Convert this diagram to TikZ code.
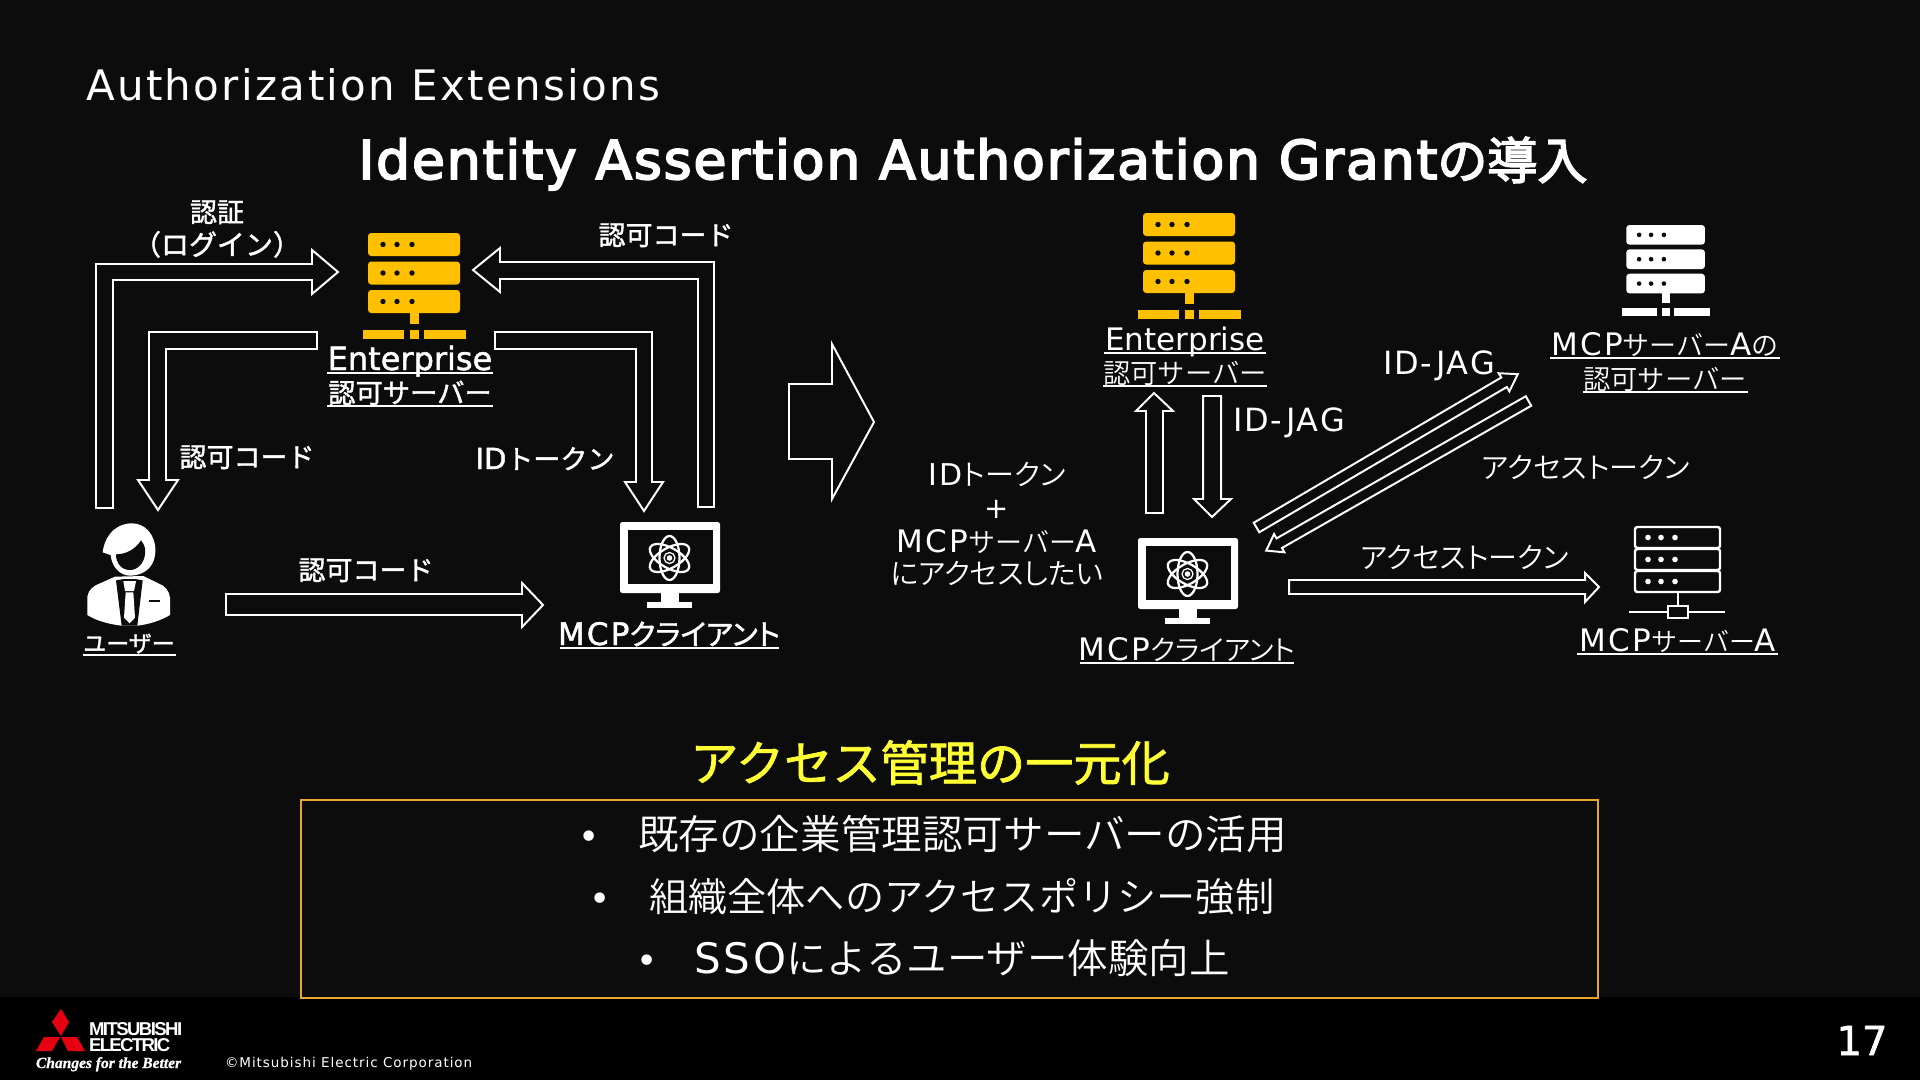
\documentclass[tikz,border=0pt]{standalone}
\usepackage{fontspec}
\setmainfont{DejaVu Sans}
\newfontfamily\jp{Noto Sans CJK JP DemiLight}
\newfontfamily\jpk[RawFeature=+palt]{Noto Sans CJK JP DemiLight}
\newfontfamily\jpb[FakeBold=1.5]{Noto Sans CJK JP}
\newfontfamily\jpbk[FakeBold=1.5,RawFeature=+palt]{Noto Sans CJK JP}
\newfontfamily\latb[FakeBold=1.5]{DejaVu Sans}
\newfontfamily\latbw[FakeBold=1.5,LetterSpace=7]{DejaVu Sans}
\newfontfamily\latw[LetterSpace=7]{DejaVu Sans}
\newfontfamily\latj[LetterSpace=6]{DejaVu Sans}
\newfontfamily\titlef[LetterSpace=5.6]{DejaVu Sans}
\newfontfamily\headf[FakeBold=3.5,LetterSpace=3.5]{DejaVu Sans}
\newfontfamily\headj[FakeBold=3]{Noto Sans CJK JP}
\newfontfamily\copyf[LetterSpace=7]{DejaVu Sans}
\newfontfamily\logoa[LetterSpace=-8.5]{Liberation Sans Bold}
\newfontfamily\logob[LetterSpace=-9]{Liberation Sans Bold}
\newfontfamily\logoc[FakeBold=1]{Liberation Serif Bold Italic}
\newcommand\fspx[1]{\pgfmathsetlengthmacro\tmpfs{#1*1.4226}\fontsize{\tmpfs}{\tmpfs}\selectfont}
\definecolor{bgc}{HTML}{0C0C0C}
\definecolor{amber}{HTML}{FFC000}
\definecolor{boxc}{HTML}{E8A52E}
\definecolor{yel}{HTML}{FFFF33}
\definecolor{logored}{HTML}{E60012}
\tikzset{
  txt/.style={text=white,inner sep=0pt,outer sep=0pt,anchor=base},
  blockarrow/.style={draw=white,line width=2.8pt,miter limit=10},
  rule/.style={draw=white,line width=1.8pt},
}
% x, y, scale, colour
\newcommand\servericon[4]{%
\begin{scope}[shift={(#1,#2)},scale=#3]
 \foreach \yy in {0,28.5,57}{%
  \fill[#4,rounded corners=1.6mm] (5,\yy) rectangle (97,\yy+23);
  \foreach \xx in {20,34,49}{\fill[bgc] (\xx,\yy+11.5) circle[radius=2.7];}
 }
 \fill[#4] (47,80) rectangle (56,91);
 \fill[#4] (0,97) rectangle (41,106);
 \fill[#4] (47,97) rectangle (56,106);
 \fill[#4] (61,97) rectangle (103,106);
\end{scope}}
\newcommand\atomicon[2]{%
\begin{scope}[shift={(#1,#2)}]
 \foreach \aa in {0,60,120}{\draw[white,line width=3.2pt,rotate=\aa] (0,0) ellipse[x radius=10,y radius=22];}
 \draw[white,line width=1.8pt] (0,0) circle[radius=5.5];
 \fill[white] (0,0) circle[radius=2.8];
\end{scope}}
\newcommand\monitoricon[2]{%
\begin{scope}[shift={(#1,#2)}]
 \fill[white,rounded corners=1.2mm] (0,0) rectangle (100,71);
 \fill[bgc] (7.5,7.5) rectangle (92.5,62);
 \fill[white] (41,71) rectangle (59,80);
 \fill[white] (27,80) rectangle (72,86);
 \atomicon{49.5}{36}
\end{scope}}
\begin{document}
\begin{tikzpicture}[x=0.5mm,y=-0.5mm]
\useasboundingbox (0,0) rectangle (1920,1080);
\fill[bgc] (0,0) rectangle (1920,997);
\fill[black] (0,997) rectangle (1920,1080);

% titles
\node[txt,anchor=base west] (title) at (86,100) {\fspx{42}\titlef Authorization Extensions};
\node[txt] (head) at (973,179) {\fspx{53.5}\headf Identity Assertion Authorization Grant{\headj\fspx{50}の導入}};

% --- left flow ---
\servericon{363}{233}{1}{amber}
\node[txt] (entL) at (410,370) {\fspx{32}\latb Enterprise};
\draw[rule] (327,373) -- (493,373);
\node[txt] (authL) at (410,403) {\fspx{27.3}\jpb 認可サーバー};
\draw[rule] (327,406) -- (493,406);

% login arrow
\draw[blockarrow] (96,508) -- (96,264) -- (312,264) -- (312,250) -- (338,272) -- (312,294) -- (312,280) -- (113,280) -- (113,508) -- cycle;
\node[txt] (loginA) at (217,222) {\fspx{27}\jpb 認証};
\node[txt] (loginB) at (217,255) {\fspx{28}\jpb （ログイン）};
% code to user
\draw[blockarrow] (317,332) -- (149,332) -- (149,480) -- (138,480) -- (158,510) -- (178,480) -- (166,480) -- (166,349) -- (317,349) -- cycle;
\node[txt] (codeU) at (247,467) {\fspx{27}\jpb 認可コード};
% code to server
\draw[blockarrow] (714,507) -- (714,262) -- (500,262) -- (500,248) -- (473,270) -- (500,292) -- (500,279) -- (698,279) -- (698,507) -- cycle;
\node[txt] (codeS) at (666,245) {\fspx{27}\jpb 認可コード};
% id token
\draw[blockarrow] (495,332) -- (652,332) -- (652,482) -- (663,482) -- (644,511) -- (625,482) -- (636,482) -- (636,349) -- (495,349) -- cycle;
\node[txt] (idL) at (545,469) {\fspx{29}\latb ID{\jpb\fspx{27}トークン}};
% user
\begin{scope}[shift={(80,515)},x=0.16667mm,y=-0.16667mm]
 \fill[white] (22,300) -- (22,245) .. controls (25,225) and (40,212) .. (60,205) -- (105,185) -- (190,183) -- (235,205) .. controls (255,212) and (268,228) .. (270,248) -- (270,300) .. controls (240,318) and (205,328) .. (172,332) -- (125,332) .. controls (90,328) and (50,318) .. (22,300) -- cycle;
 \fill[bgc] (108,196) -- (132,192) -- (165,192) -- (188,196) -- (172,332) -- (125,332) -- cycle;
 \fill[white] (130,198) -- (168,198) -- (162,228) -- (135,228) -- cycle;
 \fill[white] (137,232) -- (160,232) -- (165,308) -- (149,325) -- (132,308) -- cycle;
 \fill[bgc] (207,255) rectangle (240,262);
 \fill[white] (68,112) .. controls (72,75) and (95,30) .. (150,25) .. controls (195,22) and (228,60) .. (226,110) .. controls (225,145) and (205,180) .. (150,182) .. controls (120,182) and (95,155) .. (92,120) -- cycle;
 \fill[bgc] (108,118) .. controls (135,118) and (165,105) .. (183,76) .. controls (195,90) and (197,105) .. (195,118) .. controls (192,145) and (172,165) .. (150,165) .. controls (125,165) and (108,145) .. (108,118) -- cycle;
\end{scope}
\node[txt] (userL) at (129,652) {\fspx{23}\jpb ユーザー};
\draw[rule] (83,655) -- (176,655);
% code to client
\draw[blockarrow] (226,594) -- (522,594) -- (522,583) -- (543,605) -- (522,627) -- (522,615) -- (226,615) -- cycle;
\node[txt] (codeC) at (366,580) {\fspx{27}\jpb 認可コード};
\monitoricon{620}{522}
\node[txt] (clientL) at (669,645) {\fspx{31}\latbw MCP{\jpbk\fspx{29}クライアント}};
\draw[rule] (560,648) -- (779,648);

% big arrow
\draw[blockarrow] (789,384) -- (832,384) -- (832,344) -- (874,422) -- (832,499) -- (832,459) -- (789,459) -- cycle;

% --- right flow ---
\servericon{1138}{213}{1}{amber}
\node[txt] (entR) at (1185,350) {\fspx{31}Enterprise};
\draw[rule] (1104,353) -- (1266,353);
\node[txt] (authR) at (1185,383) {\fspx{27.3}\jp 認可サーバー};
\draw[rule] (1103,386) -- (1267,386);
\draw[blockarrow] (1146,513) -- (1146,411) -- (1136,411) -- (1154,393) -- (1173,411) -- (1163,411) -- (1163,513) -- cycle;
\draw[blockarrow] (1203,396) -- (1203,499) -- (1194,499) -- (1212,517) -- (1231,499) -- (1221,499) -- (1221,396) -- cycle;
\node[txt] (jagA) at (1289,431) {\fspx{32}\latj ID-JAG};
\node[txt] (idtok) at (997,485) {\fspx{30}\latw ID\kern1.5pt{\jpk\fspx{29}トークン}};
\node[txt] (plus) at (997,518) {\fspx{29}+};
\node[txt] (mcpa) at (997,552) {\fspx{31}\latw MCP{\jp\fspx{27}サーバー}A};
\node[txt] (wish) at (997,584) {\fspx{29}\jpk にアクセスしたい};
\monitoricon{1138}{538}
\node[txt] (clientR) at (1187,660) {\fspx{31}\latw MCP{\jpk\fspx{28}クライアント}};
\draw[rule] (1080,663) -- (1294,663);
% diagonal arrows
\begin{scope}[shift={(1256.5,527.5)},rotate=30.4]
 \draw[blockarrow] (0,5.5) -- (287,5.5) -- (287,10.5) -- (303,0) -- (287,-10.5) -- (287,-5.5) -- (0,-5.5) -- cycle;
\end{scope}
\begin{scope}[shift={(1528.5,401)},rotate=-150.3]
 \draw[blockarrow] (0,5.5) -- (287,5.5) -- (287,10.5) -- (302,0) -- (287,-10.5) -- (287,-5.5) -- (0,-5.5) -- cycle;
\end{scope}
\node[txt] (jagB) at (1439,374) {\fspx{32}\latj ID-JAG};
\node[txt] (tokA) at (1586,478) {\fspx{29}\jpk アクセストークン};
\servericon{1622}{225}{0.855}{white}
\node[txt] (mcpaAuth) at (1665,355) {\fspx{31}\latw MCP{\jp\fspx{27}サーバー}A{\jp\fspx{27}の}};
\draw[rule] (1550,358) -- (1780,358);
\node[txt] (mcpaAuth2) at (1665,389) {\fspx{27.3}\jp 認可サーバー};
\draw[rule] (1583,392) -- (1748,392);
% access token to server
\draw[blockarrow] (1289,580) -- (1585,580) -- (1585,573) -- (1599,587) -- (1585,602) -- (1585,594) -- (1289,594) -- cycle;
\node[txt] (tokB) at (1465,568) {\fspx{29}\jpk アクセストークン};
% outline server
\begin{scope}[white,line width=3.4pt]
 \draw[rounded corners=1.2mm] (1635,527) rectangle (1720,548);
 \draw[rounded corners=1.2mm] (1635,549) rectangle (1720,570);
 \draw[rounded corners=1.2mm] (1635,571) rectangle (1720,592);
 \foreach \yy in {537.5,559.5,581.5}{\foreach \xx in {1648,1661,1675}{\fill[white] (\xx,\yy) circle[radius=2.8];}}
 \draw (1678,592) -- (1678,606);
 \draw (1629,612) -- (1668,612);
 \draw (1688,612) -- (1725,612);
 \draw (1668,606) rectangle (1688,618);
\end{scope}
\node[txt] (mcpaL) at (1678,651) {\fspx{31}\latw MCP{\jp\fspx{26}サーバー}A};
\draw[rule] (1577,654) -- (1778,654);

% --- lower block ---
\node[txt,text=yel] (unify) at (930,781) {\fspx{48.2}\jpb アクセス管理の一元化};
\draw[boxc,line width=3.2pt] (301,800) rectangle (1598,998);
\node[txt] (b1) at (589,849) {\fspx{36}•};
\node[txt,anchor=base west] (t1) at (638,849) {\fspx{40.6}\jp 既存の企業管理認可サーバーの活用};
\node[txt] (b2) at (600,911) {\fspx{36}•};
\node[txt,anchor=base west] (t2) at (649,911) {\fspx{39.2}\jp 組織全体へのアクセスポリシー強制};
\node[txt] (b3) at (647,973) {\fspx{36}•};
\node[txt,anchor=base west] (t3) at (694,973) {\fspx{42}\latw SSO{\jp\fspx{40.5}によるユーザー体験向上}};

% --- footer ---
\fill[logored] (61,1009) -- (69,1022) -- (61,1036) -- (52,1022) -- cycle;
\fill[logored] (36,1051) -- (44,1037) -- (60,1037) -- (52,1051) -- cycle;
\fill[logored] (61,1037) -- (77,1037) -- (85,1051) -- (68,1051) -- cycle;
\node[txt,anchor=base west] (logo1) at (89,1035) {\fspx{18.6}\logoa MITSUBISHI};
\node[txt,anchor=base west] (logo2) at (89,1051) {\fspx{18.6}\logob ELECTRIC};
\node[txt,anchor=base west] (logo3) at (36,1068) {\fspx{15.5}\logoc Changes for the Better};
\node[txt,anchor=base west] (copy) at (225,1067) {\fspx{13.5}\copyf ©Mitsubishi Electric Corporation};
\node[txt] (page) at (1862,1055) {\fspx{40}\latb 17};
\end{tikzpicture}
\end{document}
